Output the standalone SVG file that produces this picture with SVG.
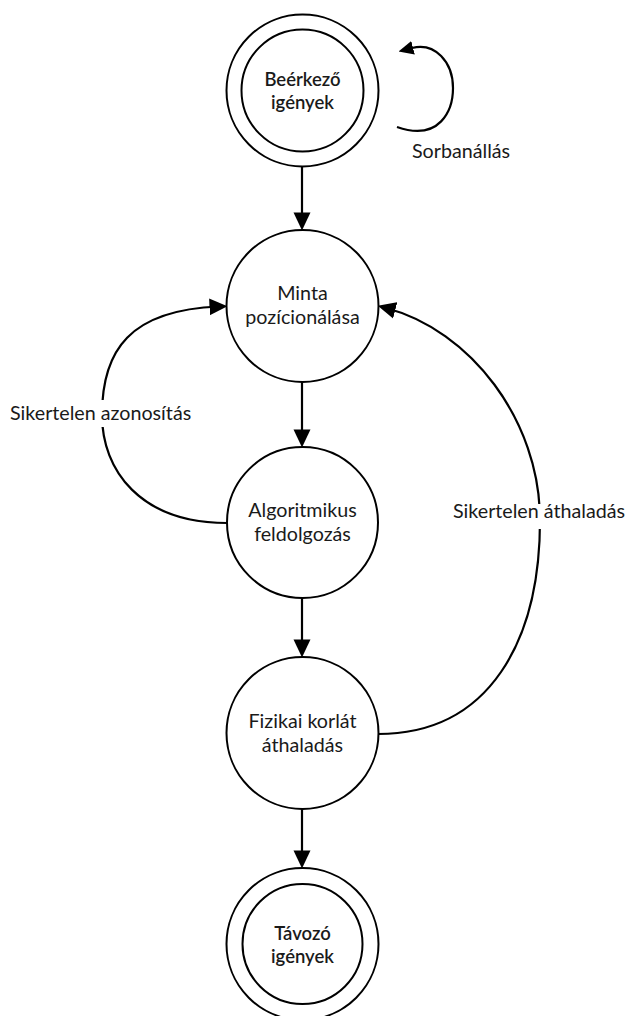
<svg xmlns="http://www.w3.org/2000/svg" width="627" height="1016" viewBox="0 0 627 1016">
<defs>
<style>
.node{fill:#fff;stroke:#000;stroke-width:2}
.edge{fill:none;stroke:#000;stroke-width:2.2}
.t{font-family:Lato,"Open Sans","Liberation Sans",sans-serif;font-size:19.7px;fill:#1a1a1a;text-anchor:middle}
.b{font-weight:600;font-size:18.5px}
.lbl{font-family:Lato,"Open Sans","Liberation Sans",sans-serif;font-size:19.7px;fill:#1a1a1a}
</style>
<marker id="ah" markerUnits="userSpaceOnUse" markerWidth="18" markerHeight="18" viewBox="0 0 17 16" refX="9" refY="8" orient="auto">
<path d="M0,0 L17,8 L0,16 Z" fill="#000"/>
</marker>
<marker id="ahs" markerUnits="userSpaceOnUse" markerWidth="15" markerHeight="14" viewBox="0 0 14 13" refX="1" refY="6.5" orient="auto">
<path d="M0,0 L14,6.5 L0,13 Z" fill="#000"/>
</marker>
</defs>
<rect width="627" height="1016" fill="#fff"/>
<g id="connectors">
<path class="edge" d="M302,167 V222" marker-end="url(#ah)"/>
<path class="edge" d="M302,382 V439" marker-end="url(#ah)"/>
<path class="edge" d="M302,598 V649" marker-end="url(#ah)"/>
<path class="edge" d="M302,809 V860" marker-end="url(#ah)"/>
<path class="edge" d="M227,523 C140,523 102,470 102,415 C102,350 130,310 219,306.5" marker-end="url(#ah)"/>
<path class="edge" d="M378,734 C490,734 540,640 540,520 C540,420 470,330 386,308" marker-end="url(#ah)"/>
<path class="edge" d="M397,127 C440,142 453,110 453,88 C453,62 435,42 412,48" marker-end="url(#ahs)"/>
<rect x="8" y="400" width="188" height="27" fill="#fff"/>
<text class="lbl" x="10" y="420">Sikertelen azonosítás</text>
<rect x="451" y="504" width="176" height="25" fill="#fff"/>
<text class="lbl" x="453" y="518">Sikertelen áthaladás</text>
<text class="lbl" x="412" y="158">Sorbanállás</text>
</g>
<g id="n-beerkezo">
<circle class="node" cx="302.5" cy="90.5" r="76"/>
<circle class="node" cx="302.5" cy="90.5" r="61"/>
<text class="t b" x="302.5" y="86">Beérkező</text>
<text class="t b" x="302.5" y="109">igények</text>
</g>
<g id="n-minta">
<circle class="node" cx="302.5" cy="306" r="76"/>
<text class="t" x="302.5" y="300">Minta</text>
<text class="t" x="302.5" y="324">pozícionálása</text>
</g>
<g id="n-algo">
<circle class="node" cx="302.5" cy="522.5" r="75.5"/>
<text class="t" x="302.5" y="517">Algoritmikus</text>
<text class="t" x="302.5" y="541">feldolgozás</text>
</g>
<g id="n-fizikai">
<circle class="node" cx="302.5" cy="733" r="76"/>
<text class="t" x="302.5" y="728">Fizikai korlát</text>
<text class="t" x="302.5" y="752">áthaladás</text>
</g>
<g id="n-tavozo">
<circle class="node" cx="302.5" cy="944" r="76"/>
<circle class="node" cx="302.5" cy="944" r="60"/>
<text class="t b" x="302.5" y="940">Távozó</text>
<text class="t b" x="302.5" y="963">igények</text>
</g>
</svg>
